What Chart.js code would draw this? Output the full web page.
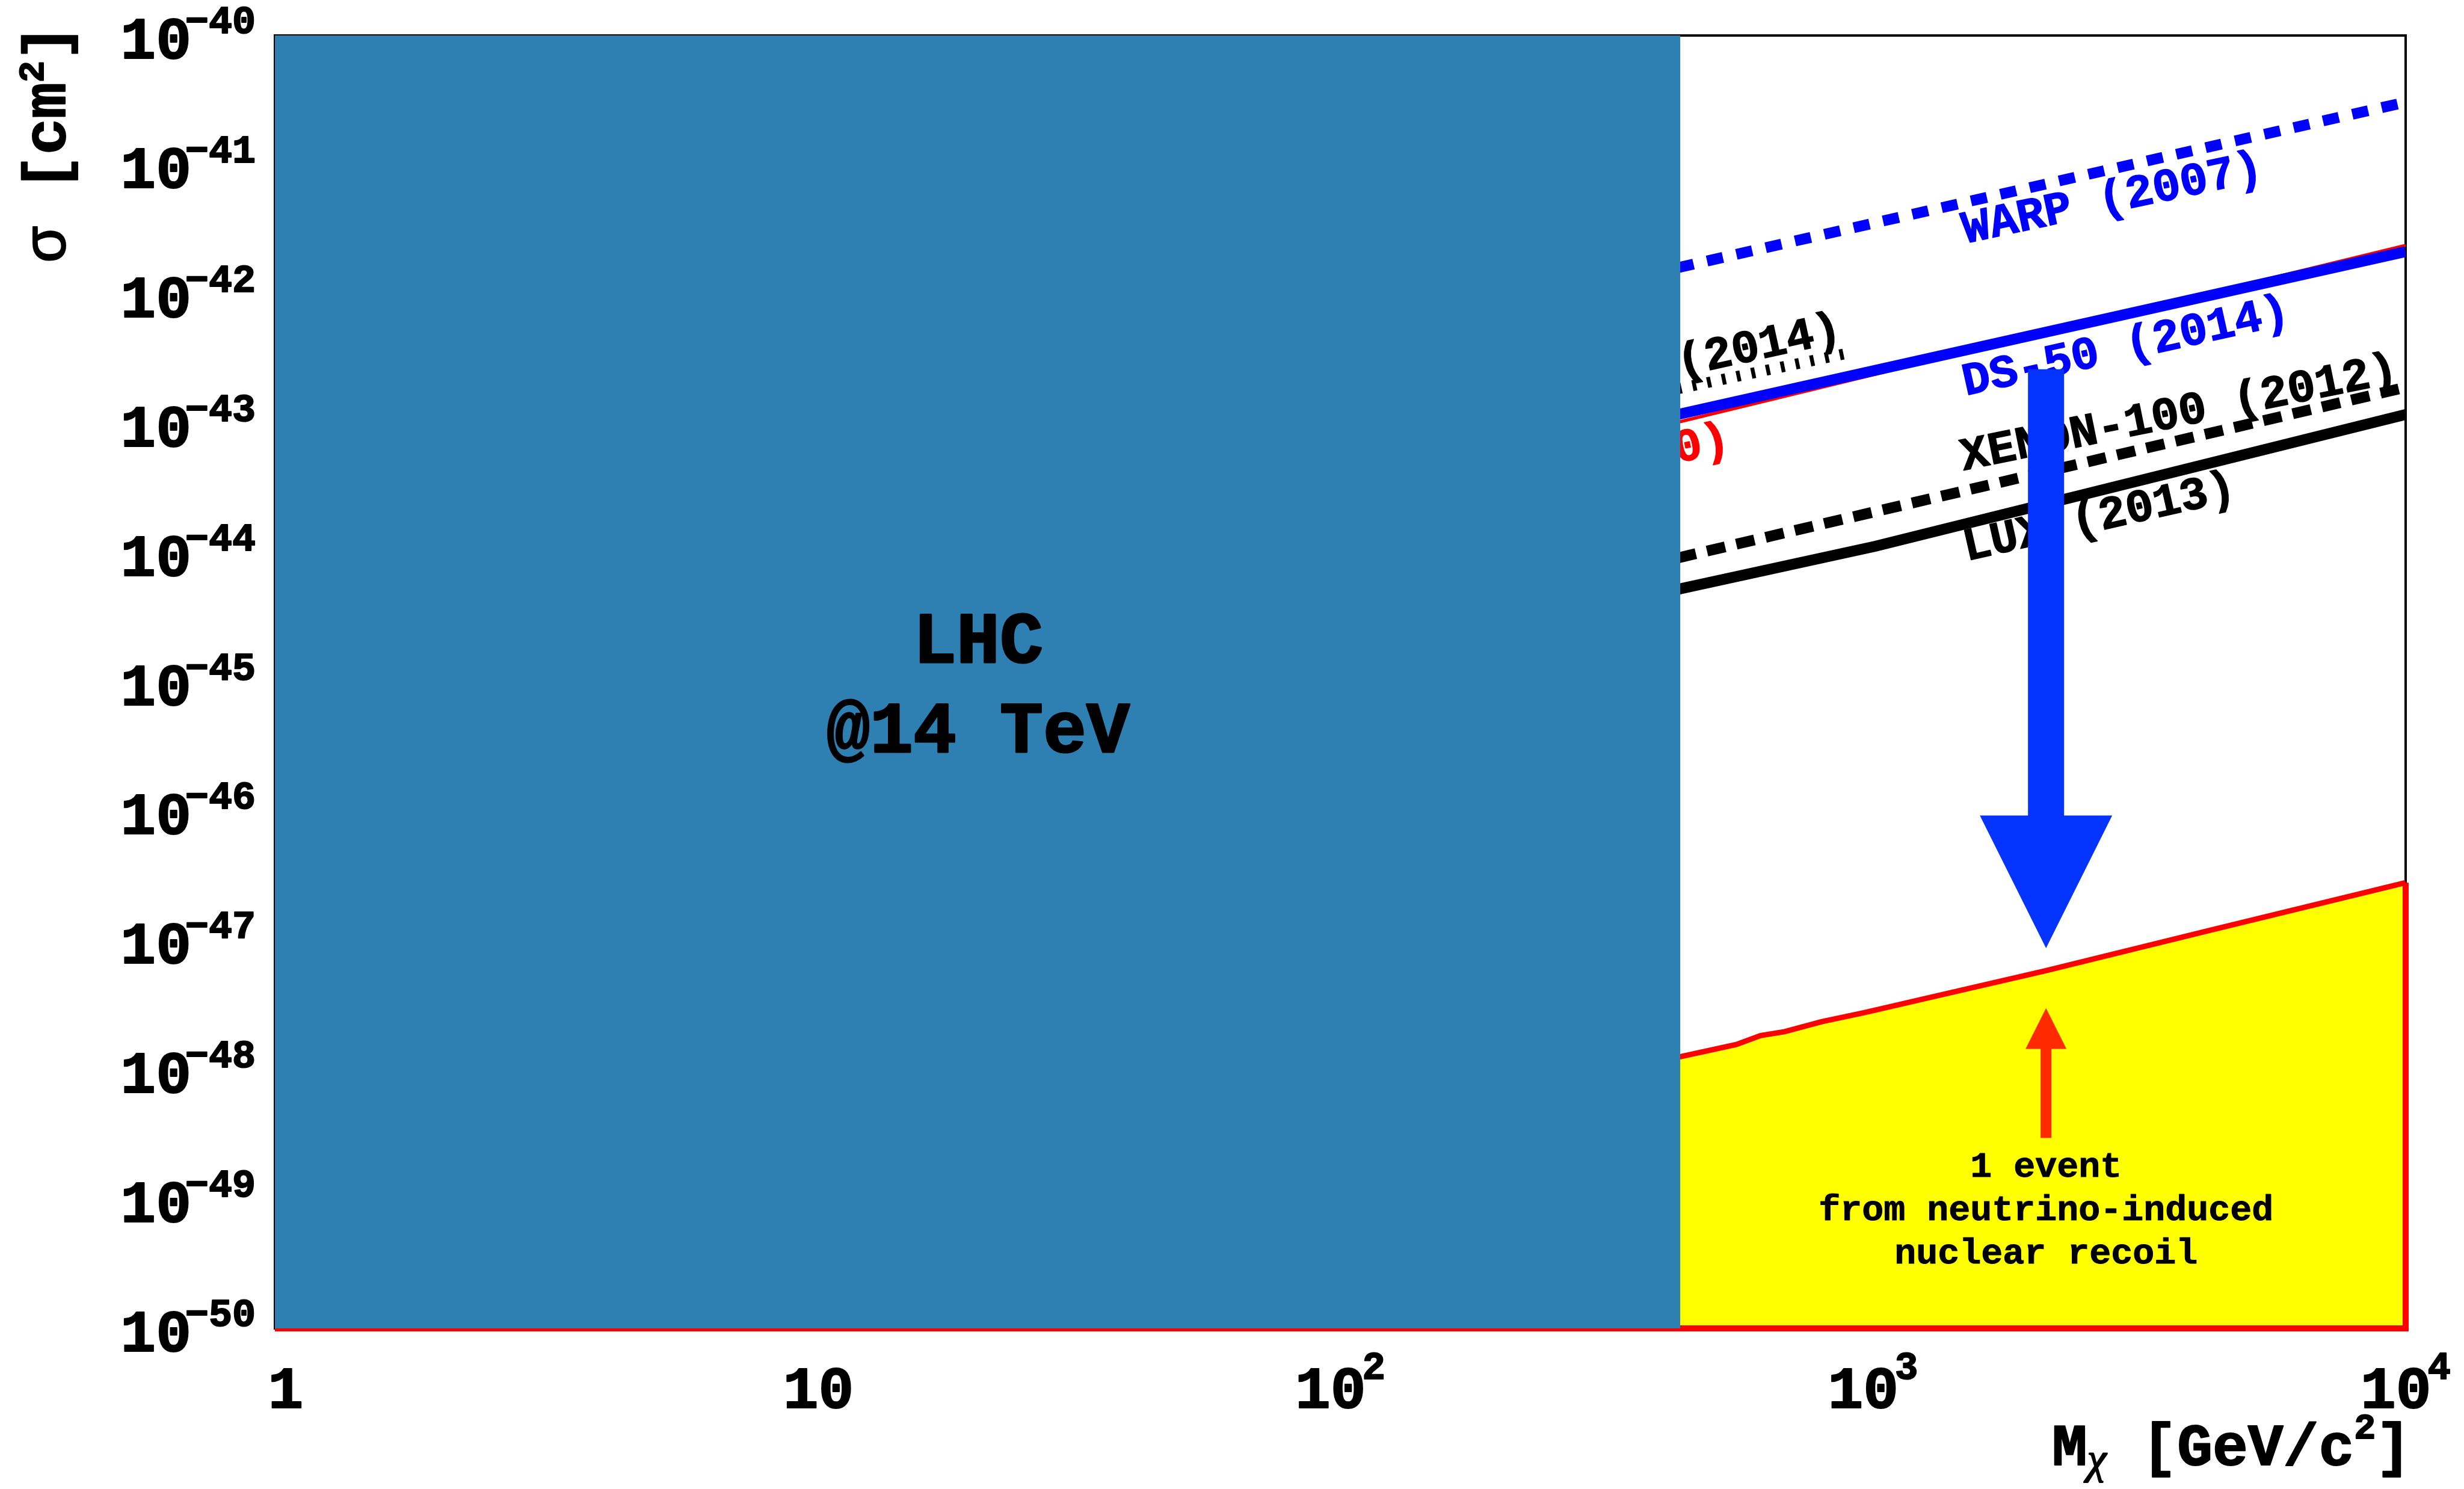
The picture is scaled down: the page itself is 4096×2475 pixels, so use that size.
<!DOCTYPE html>
<html>
<head>
<meta charset="utf-8">
<title>WIMP-nucleon cross-section limits</title>
<script src="https://cdn.jsdelivr.net/npm/chart.js@4.4.1/dist/chart.umd.min.js"></script>
<style>
  html, body { margin: 0; padding: 0; background: #ffffff; overflow: hidden; }
  #wrap { width: 4096px; height: 2475px; position: relative; }
  canvas { display: block; }
</style>
</head>
<body>
<div id="wrap"><canvas id="chart" width="4096" height="2475"></canvas></div>
<script>
// ---- axes -----------------------------------------------------------------
const X_TICKS = [1, 10, 100, 1000, 10000];
const X_TICK_BASE = ['1', '10', '10', '10', '10'];
const X_TICK_EXP = ['', '', '2', '3', '4'];
const Y_TICK_EXP = [-40, -41, -42, -43, -44, -45, -46, -47, -48, -49, -50];
const X_MIN = 1, X_MAX = 1e4;
const Y_MIN = 1e-50, Y_MAX = 1e-40;

// ---- excluded region reachable by the LHC at 14 TeV (GeV/c^2) -------------
const LHC_REACH = 435;

// ---- experimental limits: WIMP mass [GeV/c^2] vs cross-section [cm^2] -----
const WARP_MASS = [430, 10000];
const WARP_SIGMA = [1.6e-42, 3.05e-41];
const DS50_MASS = [430, 10000];
const DS50_SIGMA = [1.17e-43, 2.13e-42];
const RED_MASS = [430, 10000];
const RED_SIGMA = [1.02e-43, 2.38e-42];
const HATCH_MASS = [430, 921];
const HATCH_SIGMA = [1.85e-43, 3.57e-43];
const XENON_MASS = [430, 10000];
const XENON_SIGMA = [9.1e-45, 1.9e-43];
const LUX_MASS = [430, 1010, 10000];
const LUX_SIGMA = [5.2e-45, 1.12e-44, 1.17e-43];

// ---- one neutrino-induced nuclear-recoil event ----------------------------
const NU_MASS = [430, 554, 615, 682, 802, 964, 2113, 4325, 10000];
const NU_SIGMA = [1.25e-48, 1.57e-48, 1.84e-48, 1.97e-48, 2.36e-48, 2.77e-48, 5.85e-48, 1.21e-47, 2.80e-47];

// ---- curve labels (anchored in data coordinates) --------------------------
const CURVE_LABELS = ['WARP (2007)', 'DS-50 (2014)', 'XENON-100 (2012)', 'LUX (2013)', '(2014)', '(2010)'];
const CURVE_LABEL_MASS = [2818, 2987, 3759, 2661, 612, 537];
const CURVE_LABEL_SIGMA = [5.33e-42, 3.83e-43, 1.17e-43, 1.83e-44, 3.87e-43, 7.46e-44];

// ---- sensitivity arrows ---------------------------------------------------
const ARROW_MASS = 2113;
const BLUE_ARROW_SIGMA = [2.62e-43, 9.27e-47, 8.73e-48];   // tail, head base, tip
const RED_ARROW_SIGMA = [2.97e-49, 1.45e-48, 3.0e-48];     // tail, head base, tip
const NOTE_LINES = ['1 event', 'from neutrino-induced', 'nuclear recoil'];
const NOTE_SIGMA = 1.49e-49;
const LHC_LINES = ['LHC', '@14 TeV'];
const LHC_LABEL_MASS = 20.9;
const LHC_LABEL_SIGMA = 1.41e-45;

// ---- styling --------------------------------------------------------------
const MONO = "'Liberation Mono', 'DejaVu Sans Mono', monospace";
const f = (size, weight = 'bold', family = MONO, style = '') => `${style} ${weight} ${size}px ${family}`.trim();
const LABEL_STYLE = [
  { color: '#0000ff', angle: -12.0, align: 'center' },
  { color: '#0000ff', angle: -12.5, align: 'center' },
  { color: '#000000', angle: -11.5, align: 'center' },
  { color: '#000000', angle: -12.8, align: 'center' },
  { color: '#000000', angle: -12.3, align: 'center' },
  { color: '#ff0000', angle: -12.0, align: 'right' }
];

const pts = (xs, ys) => xs.map((x, i) => ({ x, y: ys[i] }));

// heavy text: fill plus a thin outline in the same colour
function heavyText(ctx, text, x, y, weight) {
  ctx.fillText(text, x, y);
  if (weight) {
    ctx.lineWidth = weight;
    ctx.strokeStyle = ctx.fillStyle;
    ctx.lineJoin = 'round';
    ctx.strokeText(text, x, y);
  }
}

function drawRuns(ctx, x, y, runs, weight) {
  let cx = x;
  for (const r of runs) {
    ctx.font = r.font;
    heavyText(ctx, r.text, cx, y + (r.dy || 0), weight);
    cx += ctx.measureText(r.text).width + (r.kern || 0);
  }
}
function runsWidth(ctx, runs) {
  let w = 0;
  for (const r of runs) { ctx.font = r.font; w += ctx.measureText(r.text).width + (r.kern || 0); }
  return w;
}

const decorations = {
  id: 'decorations',
  beforeDatasetsDraw(chart) {
    const { ctx, chartArea: a } = chart;
    ctx.save();
    ctx.strokeStyle = '#000000';
    ctx.lineWidth = 4;
    ctx.strokeRect(a.left, a.top, a.right - a.left, a.bottom - a.top);
    ctx.restore();
  },
  afterDatasetDraw(chart, args) {
    // curve labels go under the LHC block, which is drawn right after this dataset
    if (chart.data.datasets[args.index].id !== 'floorEdge') return;
    const { ctx, scales: { x, y } } = chart;
    ctx.save();
    ctx.font = f(77);
    ctx.textBaseline = 'middle';
    CURVE_LABELS.forEach((txt, i) => {
      const st = LABEL_STYLE[i];
      ctx.save();
      ctx.translate(x.getPixelForValue(CURVE_LABEL_MASS[i]), y.getPixelForValue(CURVE_LABEL_SIGMA[i]));
      ctx.rotate(st.angle * Math.PI / 180);
      ctx.fillStyle = st.color;
      ctx.textAlign = st.align;
      heavyText(ctx, txt, 0, 0, 1.5);
      ctx.restore();
    });
    ctx.restore();
  },
  afterDatasetsDraw(chart) {
    const { ctx, chartArea: a, scales: { x, y } } = chart;
    ctx.save();
    ctx.textBaseline = 'alphabetic';

    // LHC block caption
    ctx.fillStyle = '#000000';
    ctx.font = f(120);
    ctx.textAlign = 'center';
    const lx = x.getPixelForValue(LHC_LABEL_MASS);
    const ly = y.getPixelForValue(LHC_LABEL_SIGMA);
    LHC_LINES.forEach((t, i) => heavyText(ctx, t, lx, ly + i * 149, 3));

    // downward sensitivity arrow
    const ax = x.getPixelForValue(ARROW_MASS);
    const [bt, bb, btip] = BLUE_ARROW_SIGMA.map(v => y.getPixelForValue(v));
    ctx.fillStyle = '#0533ff';
    ctx.beginPath();
    ctx.moveTo(ax - 30, bt); ctx.lineTo(ax + 30, bt); ctx.lineTo(ax + 30, bb);
    ctx.lineTo(ax + 110, bb); ctx.lineTo(ax, btip); ctx.lineTo(ax - 110, bb);
    ctx.lineTo(ax - 30, bb); ctx.closePath(); ctx.fill();

    // upward arrow pointing at the neutrino floor
    const [rt, rb, rtip] = RED_ARROW_SIGMA.map(v => y.getPixelForValue(v));
    ctx.fillStyle = '#ff2a00';
    ctx.beginPath();
    ctx.moveTo(ax - 9, rt); ctx.lineTo(ax + 9, rt); ctx.lineTo(ax + 9, rb);
    ctx.lineTo(ax + 34, rb); ctx.lineTo(ax, rtip); ctx.lineTo(ax - 34, rb);
    ctx.lineTo(ax - 9, rb); ctx.closePath(); ctx.fill();

    // note under the arrow
    ctx.fillStyle = '#000000';
    ctx.font = f(60);
    ctx.textAlign = 'center';
    const ny = y.getPixelForValue(NOTE_SIGMA);
    NOTE_LINES.forEach((t, i) => heavyText(ctx, t, ax, ny + i * 72, 1));

    // y tick labels: 10^-n
    ctx.textAlign = 'left';
    Y_TICK_EXP.forEach(e => {
      const py = y.getPixelForValue(Math.pow(10, e));
      const runs = [
        { text: '10', font: f(98), kern: -10 },
        { text: '\u2212' + Math.abs(e), font: f(65), dy: -42 }
      ];
      const w = runsWidth(ctx, runs);
      drawRuns(ctx, a.left - 32 - w, py + 38, runs, 2);
    });

    // x tick labels
    X_TICKS.forEach((v, i) => {
      const px = x.getPixelForValue(v);
      const runs = [{ text: X_TICK_BASE[i], font: f(98), kern: -6 }];
      if (X_TICK_EXP[i]) runs.push({ text: X_TICK_EXP[i], font: f(64), dy: -48 });
      const w = runsWidth(ctx, runs);
      const shift = X_TICK_EXP[i] ? 0 : 15;
      drawRuns(ctx, px - w / 2 + shift, a.bottom + 132, runs, 2);
    });

    // x axis title
    const xRuns = [
      { text: 'M', font: f(98) },
      { text: '\u03c7', font: f(72, 'normal', "'Liberation Serif', serif", 'italic'), dy: 14 },
      { text: ' [GeV/c', font: f(98) },
      { text: '2', font: f(60), dy: -44 },
      { text: ']', font: f(98) }
    ];
    drawRuns(ctx, 4008 - runsWidth(ctx, xRuns), a.bottom + 227, xRuns, 2);

    // y axis title (rotated)
    ctx.save();
    ctx.translate(108, 437);
    ctx.rotate(-Math.PI / 2);
    drawRuns(ctx, 0, 0, [
      { text: '\u03c3', font: f(100, 'normal') },
      { text: ' [cm', font: f(100) },
      { text: '2', font: f(60), dy: -36 },
      { text: ']', font: f(100) }
    ], 2);
    ctx.restore();

    ctx.restore();
  }
};

const line = (id, xs, ys, color, width, dash, order) => ({
  id, data: pts(xs, ys), borderColor: color, borderWidth: width, borderDash: dash,
  fill: false, pointRadius: 0, tension: 0, order
});

new Chart(document.getElementById('chart'), {
  type: 'line',
  data: {
    datasets: [
      { id: 'lhc', data: pts([X_MIN, LHC_REACH], [Y_MAX, Y_MAX]), fill: 'start',
        backgroundColor: '#2f80b2', borderWidth: 0, pointRadius: 0, order: 0 },
      Object.assign(line('floorEdge', [X_MAX, X_MAX, X_MIN], [NU_SIGMA[NU_SIGMA.length - 1], Y_MIN, Y_MIN], '#ff0000', 10, [], 1), { clip: 8 }),
      { id: 'floor', data: pts(NU_MASS, NU_SIGMA), borderColor: '#ff0000', borderWidth: 9,
        backgroundColor: '#ffff00', fill: 'start', pointRadius: 0, tension: 0, order: 2, clip: 8 },
      line('lux', LUX_MASS, LUX_SIGMA, '#000000', 18, [], 3),
      line('xenon', XENON_MASS, XENON_SIGMA, '#000000', 18, [31, 19], 4),
      line('warp', WARP_MASS, WARP_SIGMA, '#0000ff', 18, [27, 23], 5),
      line('hatch', HATCH_MASS, HATCH_SIGMA, '#000000', 18, [6.5, 18.5], 6),
      line('ds50', DS50_MASS, DS50_SIGMA, '#0000ff', 18, [], 7),
      line('red', RED_MASS, RED_SIGMA, '#ff0000', 5.5, [], 8)
    ]
  },
  options: {
    responsive: false,
    devicePixelRatio: 1,
    animation: false,
    events: [],
    layout: { padding: { left: 457, top: 59, right: 97, bottom: 267 } },
    plugins: { legend: { display: false }, tooltip: { enabled: false } },
    scales: {
      x: { type: 'logarithmic', min: X_MIN, max: X_MAX, display: false },
      y: { type: 'logarithmic', min: Y_MIN, max: Y_MAX, display: false }
    }
  },
  plugins: [decorations]
});
</script>
</body>
</html>
